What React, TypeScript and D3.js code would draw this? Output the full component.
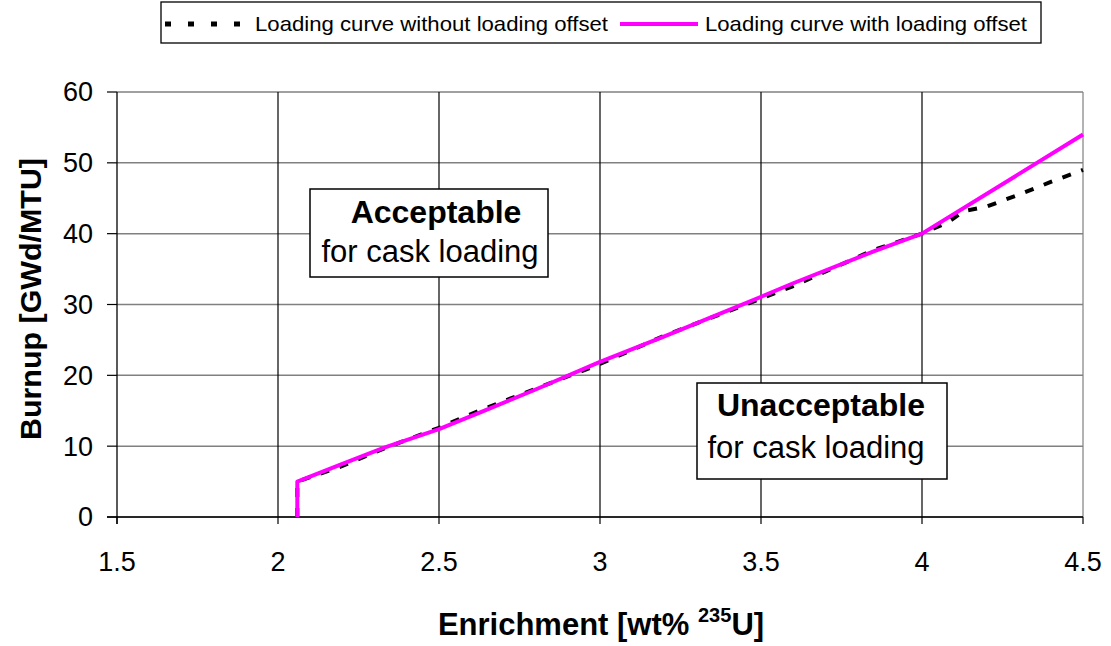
import React from "react";
import * as d3 from "d3";

const xTicks = [1.5, 2, 2.5, 3, 3.5, 4, 4.5];
const yTicks = [0, 10, 20, 30, 40, 50, 60];

const enrichWithOffset = [2.06, 2.06, 2.2, 2.33, 2.5, 2.63, 2.8, 3.0, 3.2, 3.47, 3.6, 3.85, 4.0, 4.5];
const burnupWithOffset = [0, 5, 7.5, 9.8, 12.4, 14.8, 18, 21.9, 25.5, 30.5, 33, 37.5, 40, 54];

const enrichWithout = [2.06, 2.06, 2.2, 2.33, 2.5, 2.63, 2.8, 3.0, 3.2, 3.47, 3.6, 3.85, 4.0, 4.08, 4.13, 4.2, 4.3, 4.4, 4.5];
const burnupWithout = [0, 5, 7.2, 9.7, 12.6, 15.1, 18.1, 21.6, 25.6, 30.3, 32.6, 37.7, 40, 41.6, 43.2, 43.8, 45.5, 47.3, 49];

const legendLabels = ["Loading curve without loading offset", "Loading curve with loading offset"];

const W = 1111;
const H = 646;
const left = 117;
const right = 1083;
const top = 92;
const bottom = 517;
const FONT = "Arial, 'Liberation Sans', sans-serif";

export default function App() {
  const x = d3.scaleLinear().domain([1.5, 4.5]).range([left, right]);
  const y = d3.scaleLinear().domain([0, 60]).range([bottom, top]);
  const line = d3
    .line<[number, number]>()
    .x((d) => x(d[0]))
    .y((d) => y(d[1]));
  const pink = line(enrichWithOffset.map((e, i) => [e, burnupWithOffset[i]]));
  const black = line(enrichWithout.map((e, i) => [e, burnupWithout[i]]));

  return (
    <svg width={W} height={H} style={{ position: "absolute", left: 0, top: 0, background: "#fff" }} fontFamily={FONT}>
      <rect x={0} y={0} width={W} height={H} fill="#fff" />
      {/* horizontal gridlines */}
      {yTicks.map((t) => (
        <line key={"h" + t} x1={left} x2={right} y1={y(t)} y2={y(t)} stroke="#808080" strokeWidth={1.5} />
      ))}
      {/* vertical gridlines */}
      {xTicks.slice(1).map((t) => (
        <line key={"v" + t} x1={x(t)} x2={x(t)} y1={top} y2={bottom} stroke={t === 4.5 ? "#808080" : "#000"} strokeWidth={1.2} />
      ))}
      {/* axes */}
      <line x1={left} x2={left} y1={top} y2={bottom + 7} stroke="#000" strokeWidth={1.3} />
      <line x1={left - 10} x2={right} y1={bottom} y2={bottom} stroke="#000" strokeWidth={1.3} />
      {yTicks.map((t) => (
        <g key={"yt" + t}>
          <line x1={left - 10} x2={left} y1={y(t)} y2={y(t)} stroke="#000" strokeWidth={1.2} />
          <text x={93} y={y(t)} dy="0.35em" textAnchor="end" fontSize={27}>
            {t}
          </text>
        </g>
      ))}
      {xTicks.map((t) => (
        <g key={"xt" + t}>
          <line x1={x(t)} x2={x(t)} y1={bottom} y2={bottom + 7} stroke="#000" strokeWidth={1.2} />
          <text x={x(t)} y={571} textAnchor="middle" fontSize={27}>
            {t}
          </text>
        </g>
      ))}
      {/* series */}
      <path d={black ?? ""} fill="none" stroke="#000" strokeWidth={4} strokeDasharray="9,11" />
      <path d={pink ?? ""} fill="none" stroke="#FF00FF" strokeWidth={4} strokeLinejoin="round" />

      {/* annotation boxes */}
      <rect x={310} y={189} width={238} height={88} fill="#fff" stroke="#000" strokeWidth={1.5} />
      <text x={436} y={223} textAnchor="middle" fontSize={32} fontWeight="bold">Acceptable</text>
      <text x={430} y={262} textAnchor="middle" fontSize={31}>for cask loading</text>

      <rect x={697} y={383} width={250} height={96} fill="#fff" stroke="#000" strokeWidth={1.5} />
      <text x={821} y={416} textAnchor="middle" fontSize={32} fontWeight="bold">Unacceptable</text>
      <text x={816} y={458} textAnchor="middle" fontSize={31}>for cask loading</text>

      {/* axis titles */}
      <text x={601} y={635} textAnchor="middle" fontSize={31} fontWeight="bold">
        Enrichment [wt%{" "}
        <tspan fontSize={20} dy={-13}>235</tspan>
        <tspan dy={13}>U]</tspan>
      </text>
      <text transform={`translate(41,299) rotate(-90)`} textAnchor="middle" fontSize={30} fontWeight="bold" textLength={282} lengthAdjust="spacingAndGlyphs">
        Burnup [GWd/MTU]
      </text>

      {/* legend */}
      <rect x={161} y={2} width={880} height={41} fill="#fff" stroke="#000" strokeWidth={1.3} />
      <line x1={165} x2={250} y1={24} y2={24} stroke="#000" strokeWidth={5} strokeDasharray="6,17" />
      <text x={255} y={31} fontSize={21} textLength={353} lengthAdjust="spacingAndGlyphs">{legendLabels[0]}</text>
      <line x1={620} x2={698} y1={24} y2={24} stroke="#FF00FF" strokeWidth={4} />
      <text x={705} y={31} fontSize={21} textLength={322} lengthAdjust="spacingAndGlyphs">{legendLabels[1]}</text>
    </svg>
  );
}
